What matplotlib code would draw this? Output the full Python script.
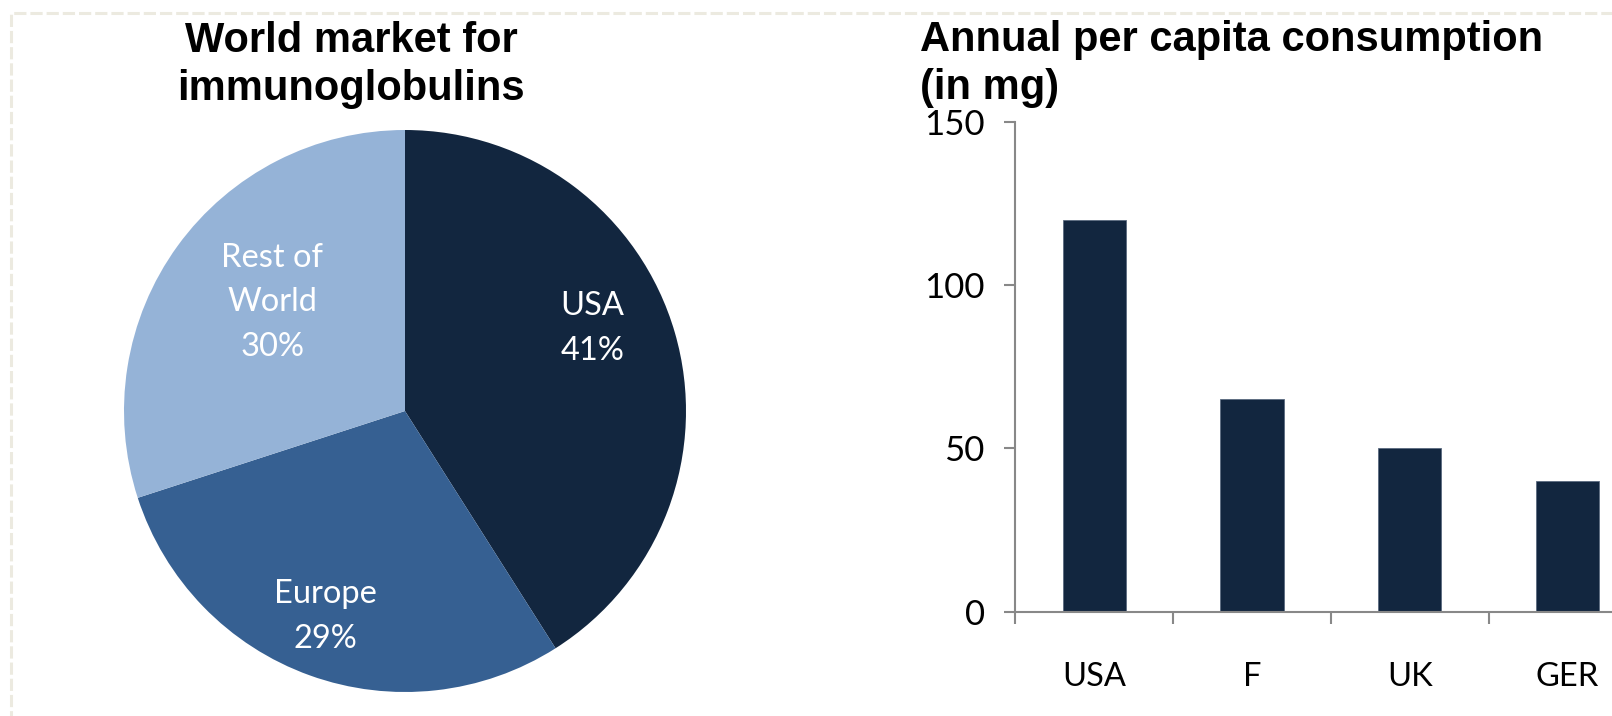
import numpy as np
import matplotlib
matplotlib.use("Agg")
import matplotlib.pyplot as plt
from matplotlib.patches import Rectangle

# --- data -------------------------------------------------------------
pie_labels = ["USA", "Europe", "Rest of\nWorld"]
pie_shares = [41, 29, 30]

bar_categories = ["USA", "F", "UK", "GER"]
bar_values = [120, 65, 50, 40]
y_ticks = [0, 50, 100, 150]

# --- style ------------------------------------------------------------
NAVY = "#12263F"
MID_BLUE = "#366092"
LIGHT_BLUE = "#95B3D7"
AXIS_GRAY = "#888888"
BORDER = "#ECEAE0"
LABEL_FONT = ["Lato", "DejaVu Sans"]
TITLE_FONT = ["Liberation Sans", "DejaVu Sans"]

W, H = 1612, 716
fig = plt.figure(figsize=(W / 100, H / 100), dpi=100)
fig.patch.set_facecolor("white")


def fx(px):
    return px / W


def fy(py):
    return 1 - py / H


# dashed frame running off the right and bottom edges
frame = Rectangle((fx(11), fy(H + 50)), fx(W + 50), fy(13) - fy(H + 50),
                  transform=fig.transFigure, fill=False, edgecolor=BORDER,
                  linewidth=2.2, linestyle=(0, (4, 1.3)), clip_on=False)
fig.patches.append(frame)

# --- pie ----------------------------------------------------------------
cx, cy, r = 405, 411, 281
ax_pie = fig.add_axes([fx(cx - r), fy(cy + r), fx(2 * r), (2 * r) / H])
colors = [NAVY, MID_BLUE, LIGHT_BLUE]
wedges, _ = ax_pie.pie(pie_shares, colors=colors, startangle=90,
                       counterclock=False, radius=1,
                       wedgeprops=dict(linewidth=0))
ax_pie.set_xlim(-1, 1)
ax_pie.set_ylim(-1, 1)
ax_pie.set_aspect("equal")
ax_pie.axis("off")

# label placement inside each wedge: radial fraction and angular nudge
label_radius = [0.73, 0.786, 0.61]
label_shift = [7.6, -1.4, -3.3]
total = sum(pie_shares)
start = 90.0
for lab, val, rad, shift in zip(pie_labels, pie_shares, label_radius, label_shift):
    sweep = 360.0 * val / total
    mid = np.deg2rad(start - sweep / 2 + shift)
    start -= sweep
    ax_pie.text(rad * np.cos(mid), rad * np.sin(mid), f"{lab}\n{val}%",
                ha="center", va="center", color="white", fontsize=23.5,
                family=LABEL_FONT, linespacing=1.62)

# multi-line titles: y is the baseline of the last line
fig.text(fx(351), fy(100), "World market for\nimmunoglobulins",
         ha="center", va="baseline", fontsize=30, fontweight="bold",
         family=TITLE_FONT, linespacing=1.25)

# --- bars ---------------------------------------------------------------
x0, y0 = 1015.3, 611.7
step = 157.8
top = 121.7
ax_bar = fig.add_axes([fx(x0), fy(y0), fx(step * len(bar_categories)),
                       (y0 - top) / H])
pos = np.arange(len(bar_categories)) + 0.5
ax_bar.bar(pos, bar_values, width=0.4, color=NAVY, edgecolor="#5a6a80",
           linewidth=0.6, zorder=2)
ax_bar.set_xlim(0, len(bar_categories))
ax_bar.set_ylim(0, 150)
ax_bar.set_yticks(y_ticks)
ax_bar.set_xticks(pos)
ax_bar.set_xticklabels(bar_categories)
ax_bar.set_xticks(np.arange(len(bar_categories) + 1), minor=True)
for side in ("top", "right"):
    ax_bar.spines[side].set_visible(False)
for side in ("left", "bottom"):
    ax_bar.spines[side].set_color(AXIS_GRAY)
    ax_bar.spines[side].set_linewidth(1.5)
    ax_bar.spines[side].set_zorder(3)
ax_bar.tick_params(axis="y", direction="out", length=8, width=1.5,
                   color=AXIS_GRAY, pad=14, labelsize=25)
ax_bar.tick_params(axis="x", which="major", length=0, pad=36, labelsize=23.5)
ax_bar.tick_params(axis="x", which="minor", direction="out", length=8.5,
                   width=1.5, color=AXIS_GRAY)
for t in ax_bar.get_xticklabels() + ax_bar.get_yticklabels():
    t.set_family(LABEL_FONT)
ax_bar.set_facecolor("none")

fig.text(fx(920), fy(99), "Annual per capita consumption\n(in mg)",
         ha="left", va="baseline", fontsize=30, fontweight="bold",
         family=TITLE_FONT, linespacing=1.25)

fig.savefig("out.png", dpi=100, facecolor="white")
